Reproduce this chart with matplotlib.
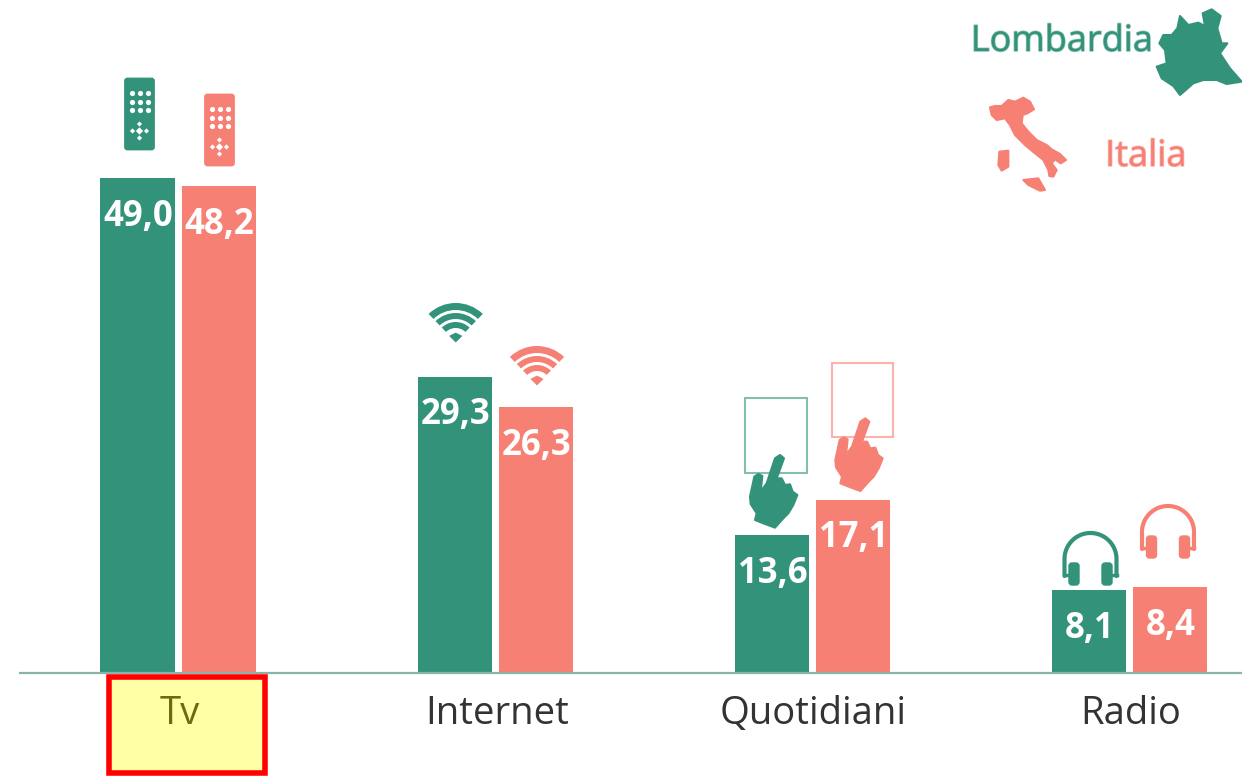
import numpy as np
import matplotlib
matplotlib.use("Agg")
import matplotlib.pyplot as plt
import matplotlib.patheffects as pe
from matplotlib.patches import Rectangle, FancyBboxPatch, Polygon, Wedge

categories = ["Tv", "Internet", "Quotidiani", "Radio"]
lombardia = [49.0, 29.3, 13.6, 8.1]
italia = [48.2, 26.3, 17.1, 8.4]

GREEN = "#33937A"
SALMON = "#F78075"
plt.rcParams["font.family"] = ["Open Sans", "DejaVu Sans"]

W, H = 1242, 780
fig = plt.figure(figsize=(W / 100, H / 100), dpi=100)

# bars: 317 px per group, 10.08 px per unit, baseline at y=672 px
ax = fig.add_axes([0, 0, 1, 1])
ax.set_xlim(-178 / 317, (W - 178) / 317)
ax.set_ylim((672 - H) / 10.08, 672 / 10.08)
ax.axis("off")
x = np.arange(len(categories))
bw, off = 74 / 317, 40.5 / 317
ax.bar(x - off, lombardia, bw, color=GREEN, zorder=2)
ax.bar(x + off, italia, bw, color=SALMON, zorder=2)
for xs, vals in [(x - off, lombardia), (x + off, italia)]:
    for xi, v in zip(xs, vals):
        ax.text(xi + 0.003, v - 3.85, f"{v:.1f}".replace(".", ","), color="white", fontsize=25,
                fontweight="bold", ha="center", va="center", zorder=3)

# everything else is drawn in image pixels
ov = fig.add_axes([0, 0, 1, 1])
ov.set_xlim(0, W)
ov.set_ylim(H, 0)
ov.axis("off")
ov.patch.set_alpha(0)
ov.plot([20, W], [672.5, 672.5], color="#8DB3A8", lw=1.6, zorder=1)

# highlighted category box
ov.add_patch(Rectangle((109, 677), 156, 96, fc="#FFFFA6", ec="#FF0000", lw=4, zorder=2))
label_x = [180, 497, 813, 1131]
for lx, c in zip(label_x, categories):
    ov.text(lx, 714, c, fontsize=27.5, ha="center", va="center",
            color="#6B6B10" if c == "Tv" else "#333333", zorder=3)


def zoomed(pts, x0=940, y0=0):
    return [(px / 3 + x0, py / 3 + y0) for px, py in pts]


# legend maps
lomb = [(650, 200), (680, 190), (675, 150), (658, 130), (670, 105), (695, 105), (712, 85),
        (720, 48), (745, 75), (775, 68), (795, 78), (788, 40), (815, 28), (842, 48),
        (832, 85), (845, 130), (862, 130), (840, 160), (870, 205), (905, 245), (860, 252),
        (830, 240), (790, 240), (760, 250), (720, 285), (700, 258), (665, 235)]
ita = [(150, 322), (165, 318), (185, 318), (205, 300), (225, 305), (250, 293), (270, 305),
       (282, 328), (262, 340), (248, 345), (245, 370), (265, 395), (290, 420), (320, 435),
       (335, 448), (360, 462), (378, 480), (362, 490), (345, 478), (335, 490), (350, 510),
       (340, 530), (328, 528), (325, 510), (310, 480), (285, 460), (255, 435), (225, 405),
       (210, 375), (195, 355), (170, 360), (155, 345)]
sard = [(178, 455), (205, 452), (205, 500), (185, 512), (175, 495)]
sic = [(250, 540), (295, 535), (315, 570), (300, 572), (265, 555)]
ov.add_patch(Polygon(zoomed(lomb), fc=GREEN, ec=GREEN, lw=1.5, joinstyle="round"))
for shape in (ita, sard, sic):
    ov.add_patch(Polygon(zoomed(shape), fc=SALMON, ec=SALMON, lw=1.5, joinstyle="round"))
ov.text(1062, 42, "Lombardia", color=GREEN, fontsize=26, ha="center", va="center",
        path_effects=[pe.withStroke(linewidth=1.2, foreground=GREEN, alpha=.5)])
ov.text(1146, 157, "Italia", color=SALMON, fontsize=26, ha="center", va="center",
        path_effects=[pe.withStroke(linewidth=1.2, foreground=SALMON, alpha=.5)])


def remote(cx, top, col):
    ov.add_patch(FancyBboxPatch((cx - 14, top + 2), 28, 70, boxstyle="round,pad=0,rounding_size=2",
                                fc=col, ec=col, lw=2))
    gx, gy = np.meshgrid([cx - 8, cx, cx + 8], [top + 16, top + 24.5, top + 33])
    ov.scatter(gx.ravel(), gy.ravel(), s=14, c="white", lw=0, zorder=3)
    ov.scatter([cx - 7, cx, cx + 7, cx, cx], [top + 54, top + 54, top + 54, top + 47, top + 61],
               s=[7, 14, 7, 7, 7], c="white", lw=0, marker="D", zorder=3)


def wifi(cx, tip, col):
    for r, wd in [(39, 7), (29, 6), (20, 6)]:
        ov.add_patch(Wedge((cx, tip), r, 226, 314, width=wd, fc=col, ec="none"))
    ov.add_patch(Polygon([(cx - 6, tip - 6), (cx, tip - 9), (cx + 6, tip - 6), (cx, tip)], fc=col, ec=col, lw=.5))


hand = [(170, 385), (185, 385), (195, 405), (210, 403), (218, 425), (232, 435), (220, 465),
        (205, 490), (190, 505), (165, 533), (130, 520), (105, 510), (110, 490), (92, 462),
        (90, 440), (103, 380), (115, 372), (127, 378), (122, 425), (140, 400), (165, 325),
        (180, 315), (192, 325)]


def tablet(x0, y0, x1, y1, dx, dy, col):
    ov.add_patch(Rectangle((x0, y0), x1 - x0, y1 - y0, fc="white", ec=col, lw=1.5, alpha=.6))
    ov.add_patch(Polygon(zoomed([(a + dx, b + dy) for a, b in hand], 720, 350), fc=col, ec=col,
                         lw=1.5, joinstyle="round"))


def headphones(cx, top, col):
    t = np.linspace(np.pi, 2 * np.pi, 60)
    r = 26
    xs = np.r_[cx - r, cx + r * np.cos(t), cx + r]
    ys = np.r_[top + r + 17, top + r + r * np.sin(t), top + r + 17]
    ov.plot(xs, ys, color=col, lw=3, solid_capstyle="round")
    for sgn in (-1, 1):
        ov.add_patch(FancyBboxPatch((cx + sgn * 16.5 - 5, top + 30), 10, 22,
                                    boxstyle="round,pad=0,rounding_size=3", fc=col, ec=col, lw=1))
        ov.plot([cx + sgn * r, cx + sgn * 20], [top + r + 16, top + r + 16], color=col, lw=2.5)


remote(139.5, 77, GREEN)
remote(219.5, 93, SALMON)
wifi(455.7, 342, GREEN)
wifi(537, 385, SALMON)
tablet(745, 398, 807, 473, 0, 0, GREEN)
tablet(832, 363, 893, 437, 256, -110, SALMON)
headphones(1090.5, 533, GREEN)
headphones(1168, 506, SALMON)

fig.savefig("out.png", dpi=100)
